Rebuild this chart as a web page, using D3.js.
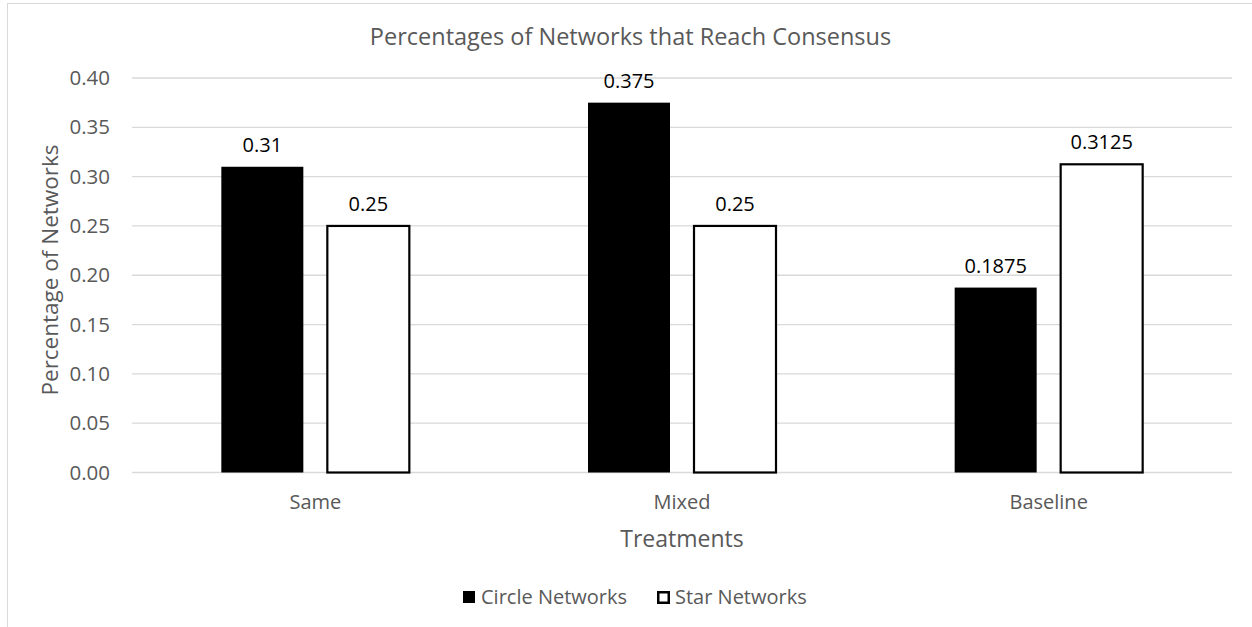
<!DOCTYPE html>
<html>
<head>
<meta charset="utf-8">
<script src="https://cdn.jsdelivr.net/npm/d3@7"></script>
<style>
  html, body { margin: 0; padding: 0; background: #fff; }
  svg { display: block; }
  text { font-family: "Open Sans", sans-serif; }
</style>
</head>
<body>
<svg id="chart" width="1252" height="627"></svg>
<script>
// Data
const treatments = ["Same", "Mixed", "Baseline"];
const seriesNames = ["Circle Networks", "Star Networks"];
const circleValues = [0.31, 0.375, 0.1875];
const starValues = [0.25, 0.25, 0.3125];
const circleLabels = ["0.31", "0.375", "0.1875"];
const starLabels = ["0.25", "0.25", "0.3125"];
const yTicks = [0, 0.05, 0.10, 0.15, 0.20, 0.25, 0.30, 0.35, 0.40];

const svg = d3.select("#chart");
const plot = { left: 132, right: 1232, top: 78, bottom: 472.5 };

// chart frame
svg.append("rect")
  .attr("x", 7.5).attr("y", 3.5)
  .attr("width", 1247).attr("height", 640)
  .attr("fill", "#fff").attr("stroke", "#d9d9d9").attr("stroke-width", 1);

const x = d3.scaleBand().domain(treatments).range([plot.left, plot.right]);
const y = d3.scaleLinear().domain([0, 0.4]).range([plot.bottom, plot.top]);

// gridlines
svg.append("g").selectAll("line").data(yTicks).join("line")
  .attr("x1", plot.left).attr("x2", plot.right)
  .attr("y1", d => y(d)).attr("y2", d => y(d))
  .attr("stroke", "#d9d9d9").attr("stroke-width", 1.3);

// y axis labels
const yAxis = svg.append("g")
  .attr("transform", `translate(${plot.left},0)`)
  .call(d3.axisLeft(y).tickValues(yTicks).tickFormat(d3.format(".2f")).tickSize(0).tickPadding(22));
yAxis.select(".domain").remove();
yAxis.selectAll("text")
  .attr("fill", "#595959").style("font-size", "20.5px").style("font-family", "'Open Sans', sans-serif");

// x axis labels
const xAxis = svg.append("g")
  .attr("transform", `translate(0,${plot.bottom})`)
  .call(d3.axisBottom(x).tickSize(0).tickPadding(0));
xAxis.select(".domain").remove();
xAxis.selectAll("text")
  .attr("dy", null).attr("y", 36)
  .attr("fill", "#595959").style("font-size", "20px").style("font-family", "'Open Sans', sans-serif");

// bars
const barW = 82, gap = 22;
const rows = treatments.map((t, i) => ({ t, c: circleValues[i], s: starValues[i], cl: circleLabels[i], sl: starLabels[i] }));
const groups = svg.append("g").selectAll("g").data(rows).join("g")
  .attr("transform", d => `translate(${x(d.t) + x.bandwidth() / 2},0)`);

groups.append("rect")
  .attr("x", -(barW + gap / 2) - 1).attr("width", barW)
  .attr("y", d => y(d.c)).attr("height", d => y(0) - y(d.c))
  .attr("fill", "#000");

groups.append("rect")
  .attr("x", gap / 2 + 1).attr("width", barW)
  .attr("y", d => y(d.s)).attr("height", d => y(0) - y(d.s))
  .attr("fill", "#fff").attr("stroke", "#000").attr("stroke-width", 2.2);

groups.append("text")
  .attr("x", -(barW / 2 + gap / 2) - 1).attr("y", d => y(d.c) - 15)
  .attr("text-anchor", "middle").attr("fill", "#000").style("font-size", "20px")
  .text(d => d.cl);

groups.append("text")
  .attr("x", gap / 2 + 1 + barW / 2).attr("y", d => y(d.s) - 15)
  .attr("text-anchor", "middle").attr("fill", "#000").style("font-size", "20px")
  .text(d => d.sl);

// title
svg.append("text")
  .attr("x", 630.5).attr("y", 45)
  .attr("text-anchor", "middle").attr("fill", "#595959").style("font-size", "23.5px")
  .text("Percentages of Networks that Reach Consensus");

// axis titles
svg.append("text")
  .attr("x", (plot.left + plot.right) / 2).attr("y", 547)
  .attr("text-anchor", "middle").attr("fill", "#595959").style("font-size", "23px")
  .text("Treatments");

svg.append("text")
  .attr("transform", `translate(58,270) rotate(-90)`)
  .attr("text-anchor", "middle").attr("fill", "#595959").style("font-size", "22.5px")
  .text("Percentage of Networks");

// legend
const legend = svg.append("g").attr("transform", "translate(463,591)");
const items = [
  { name: seriesNames[0], x: 0, fill: "#000", stroke: "none" },
  { name: seriesNames[1], x: 194, fill: "#fff", stroke: "#000" }
];
const li = legend.selectAll("g").data(items).join("g").attr("transform", d => `translate(${d.x},0)`);
li.append("rect")
  .attr("x", d => d.stroke === "none" ? 0 : 1.25).attr("y", d => d.stroke === "none" ? 0 : 1.25)
  .attr("width", d => d.stroke === "none" ? 12 : 10.5).attr("height", d => d.stroke === "none" ? 12 : 10.5)
  .attr("fill", d => d.fill).attr("stroke", d => d.stroke).attr("stroke-width", 2.5);
li.append("text")
  .attr("x", 18).attr("y", 12.5)
  .attr("fill", "#595959").style("font-size", "20px")
  .text(d => d.name);
</script>
</body>
</html>
